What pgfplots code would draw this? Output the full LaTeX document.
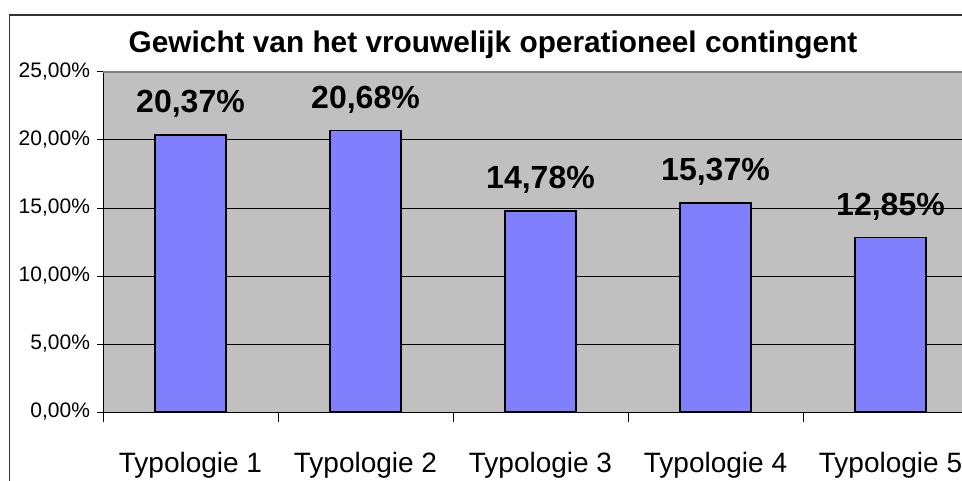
\documentclass[border=0pt]{standalone}
\usepackage{fontspec}
\setmainfont{Liberation Sans}
\usepackage{pgfplots}
\pgfplotsset{compat=1.18}
\definecolor{plotgray}{HTML}{C0C0C0}
\definecolor{barblue}{HTML}{8080FF}
\definecolor{edgegray}{HTML}{808080}

\begin{document}
\begin{tikzpicture}
% page = 962x481 px at 0.5pt per px
\useasboundingbox (0pt,0pt) rectangle (481pt,240.5pt);
\draw[line width=0.6pt, black!80] (4.75pt,-20pt) -- (4.75pt,233pt) -- (520pt,233pt);
\node[anchor=base, font=\fontsize{14.9}{17}\selectfont\bfseries] at (246.5pt,214pt)
  {Gewicht van het vrouwelijk operationeel contingent};
\begin{axis}[
  at={(51.5pt,34.5pt)}, anchor=south west,
  scale only axis, width=437.5pt, height=170pt,
  xmin=-0.5, xmax=4.5, ymin=0, ymax=25,
  axis lines*=left,
  axis line style={black, line width=0.5pt},
  axis background/.style={fill=plotgray},
  clip=false,
  ybar, bar width=35.5pt,
  ytick={0,5,...,25},
  ymajorgrids, grid style={black, line width=0.5pt},
  tick align=outside,
  major tick length=3pt,
  xtick={0,...,4},
  xticklabels={Typologie 1,Typologie 2,Typologie 3,Typologie 4,Typologie 5},
  major x tick style={draw=none},
  minor xtick={-0.5,0.5,...,4.5},
  minor tick length=5pt,
  minor x tick style={black, line width=0.5pt},
  ytick style={black, line width=0.5pt},
  /pgf/number format/assume math mode=true,
  yticklabel={\pgfmathprintnumber[fixed,fixed zerofill,precision=2,use comma]{\tick}\%},
  y tick label style={font=\fontsize{10.5}{12}\selectfont},
  x tick label style={font=\fontsize{14}{16}\selectfont, anchor=base, yshift=-27pt},
  nodes near coords={\pgfmathprintnumber[fixed,fixed zerofill,precision=2,use comma]{\pgfplotspointmeta}\%},
  every node near coord/.append style={anchor=base, yshift=11pt,
    font=\fontsize{16}{18}\selectfont\bfseries, black},
]
\addplot[fill=barblue, draw=black, line width=0.6pt]
  coordinates {(0,20.37) (1,20.68) (2,14.78) (3,15.37) (4,12.85)};
\draw[edgegray, line width=0.9pt] (axis cs:-0.5,25) -- (axis cs:4.5,25);
\end{axis}
\end{tikzpicture}
\end{document}
